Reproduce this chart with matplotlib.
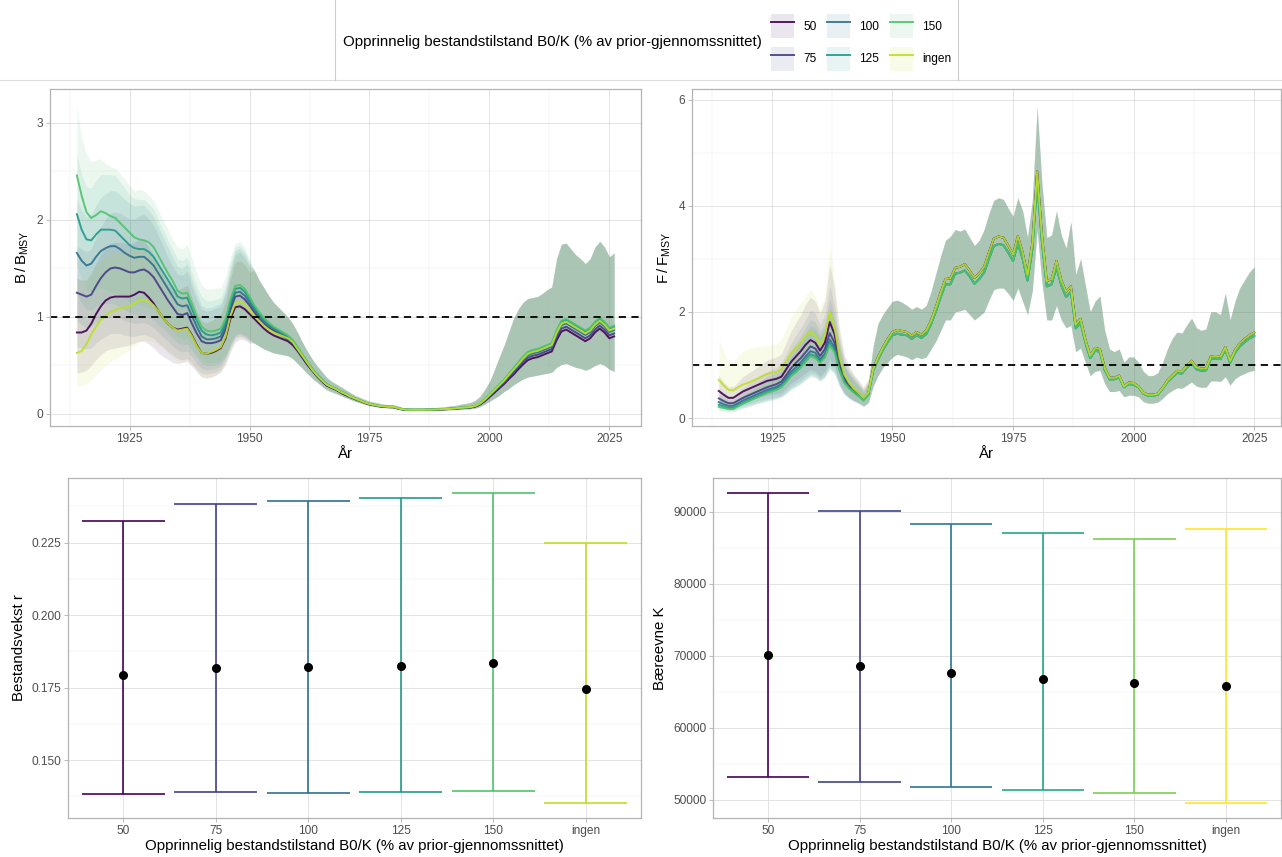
import numpy as np
import matplotlib
matplotlib.use('Agg')
import matplotlib.pyplot as plt
from matplotlib.lines import Line2D
from matplotlib.patches import Patch
from matplotlib.ticker import MultipleLocator, FixedLocator, FormatStrFormatter

plt.rcParams['font.family'] = ['Liberation Sans', 'DejaVu Sans']
plt.rcParams['mathtext.default'] = 'regular'

# ---------------- data ----------------
levels = ['50', '75', '100', '125', '150', 'ingen']
legend_title = 'Opprinnelig bestandstilstand B0/K (% av prior-gjennomssnittet)'
years_B = list(range(1914, 2027))
years_F = list(range(1914, 2026))

# B/BMSY medians (1914-2026)
B_med_50 = [0.84, 0.84, 0.86, 0.93, 1.03, 1.11, 1.17, 1.20, 1.21, 1.21,
            1.21, 1.21, 1.23, 1.26, 1.25, 1.20, 1.14, 1.06, 0.99, 0.93,
            0.89, 0.87, 0.88, 0.89, 0.81, 0.71, 0.63, 0.62, 0.63, 0.65,
            0.68, 0.78, 0.98, 1.10, 1.11, 1.08, 1.03, 0.98, 0.93, 0.88,
            0.84, 0.81, 0.79, 0.77, 0.75, 0.71, 0.65, 0.58, 0.51, 0.45,
            0.39, 0.34, 0.295, 0.27, 0.25, 0.22, 0.195, 0.173, 0.153, 0.134,
            0.115, 0.099, 0.089, 0.079, 0.074, 0.07, 0.069, 0.055, 0.045, 0.042,
            0.041, 0.041, 0.041, 0.042, 0.043, 0.045, 0.047, 0.049, 0.052, 0.055,
            0.059, 0.062, 0.066, 0.075, 0.096, 0.13, 0.173, 0.217, 0.262, 0.306,
            0.358, 0.405, 0.46, 0.51, 0.555, 0.575, 0.585, 0.605, 0.625, 0.645,
            0.76, 0.85, 0.87, 0.84, 0.81, 0.78, 0.75, 0.78, 0.84, 0.88,
            0.84, 0.78, 0.80]
B_med_75 = [1.25, 1.23, 1.21, 1.23, 1.32, 1.40, 1.46, 1.50, 1.51, 1.50,
            1.48, 1.46, 1.46, 1.48, 1.49, 1.46, 1.41, 1.33, 1.25, 1.17,
            1.10, 1.03, 1.02, 1.04, 0.93, 0.83, 0.75, 0.73, 0.73, 0.74,
            0.76, 0.87, 1.07, 1.21, 1.22, 1.18, 1.12, 1.05, 0.98, 0.93,
            0.89, 0.86, 0.83, 0.80, 0.77, 0.73, 0.66, 0.59, 0.52, 0.46,
            0.40, 0.35, 0.30, 0.275, 0.255, 0.225, 0.20, 0.177, 0.157, 0.137,
            0.118, 0.101, 0.091, 0.081, 0.076, 0.072, 0.071, 0.057, 0.046, 0.043,
            0.042, 0.042, 0.042, 0.043, 0.044, 0.046, 0.048, 0.05, 0.053, 0.057,
            0.061, 0.064, 0.068, 0.078, 0.10, 0.137, 0.182, 0.228, 0.274, 0.32,
            0.375, 0.425, 0.48, 0.535, 0.58, 0.60, 0.61, 0.63, 0.65, 0.67,
            0.79, 0.88, 0.90, 0.87, 0.84, 0.81, 0.78, 0.81, 0.87, 0.91,
            0.87, 0.81, 0.83]
B_med_100 = [1.66, 1.58, 1.53, 1.55, 1.62, 1.68, 1.71, 1.73, 1.73, 1.70,
             1.66, 1.63, 1.61, 1.62, 1.62, 1.58, 1.53, 1.45, 1.37, 1.29,
             1.21, 1.13, 1.11, 1.12, 1.01, 0.90, 0.80, 0.77, 0.77, 0.78,
             0.80, 0.91, 1.11, 1.25, 1.26, 1.22, 1.15, 1.08, 1.01, 0.95,
             0.91, 0.88, 0.85, 0.82, 0.79, 0.74, 0.67, 0.60, 0.53, 0.46,
             0.40, 0.35, 0.31, 0.28, 0.26, 0.23, 0.205, 0.18, 0.16, 0.14,
             0.12, 0.103, 0.093, 0.083, 0.078, 0.074, 0.073, 0.058, 0.047, 0.044,
             0.043, 0.043, 0.043, 0.044, 0.045, 0.047, 0.049, 0.051, 0.054, 0.058,
             0.063, 0.066, 0.07, 0.081, 0.104, 0.142, 0.19, 0.237, 0.285, 0.333,
             0.39, 0.445, 0.50, 0.555, 0.605, 0.625, 0.635, 0.655, 0.675, 0.695,
             0.82, 0.915, 0.935, 0.905, 0.875, 0.845, 0.815, 0.845, 0.905, 0.945,
             0.905, 0.845, 0.865]
B_med_125 = [2.06, 1.90, 1.80, 1.79, 1.85, 1.90, 1.90, 1.90, 1.89, 1.84,
             1.79, 1.74, 1.71, 1.70, 1.70, 1.67, 1.62, 1.54, 1.46, 1.38,
             1.30, 1.21, 1.19, 1.20, 1.08, 0.96, 0.86, 0.82, 0.81, 0.82,
             0.84, 0.95, 1.15, 1.29, 1.30, 1.26, 1.18, 1.10, 1.03, 0.97,
             0.93, 0.89, 0.86, 0.83, 0.80, 0.75, 0.68, 0.61, 0.54, 0.47,
             0.41, 0.36, 0.31, 0.28, 0.26, 0.23, 0.21, 0.18, 0.16, 0.14,
             0.12, 0.104, 0.094, 0.084, 0.079, 0.075, 0.074, 0.06, 0.048, 0.045,
             0.044, 0.044, 0.044, 0.045, 0.046, 0.048, 0.05, 0.052, 0.055, 0.06,
             0.065, 0.068, 0.072, 0.084, 0.108, 0.148, 0.198, 0.247, 0.297, 0.346,
             0.405, 0.465, 0.52, 0.58, 0.63, 0.65, 0.66, 0.68, 0.70, 0.72,
             0.85, 0.95, 0.97, 0.94, 0.91, 0.88, 0.85, 0.88, 0.94, 0.98,
             0.94, 0.88, 0.90]
B_med_150 = [2.46, 2.25, 2.08, 2.02, 2.05, 2.09, 2.07, 2.04, 2.02, 1.97,
             1.92, 1.87, 1.82, 1.80, 1.79, 1.77, 1.72, 1.63, 1.54, 1.45,
             1.37, 1.27, 1.24, 1.25, 1.13, 1.00, 0.90, 0.86, 0.85, 0.86,
             0.88, 0.98, 1.18, 1.32, 1.33, 1.29, 1.21, 1.12, 1.05, 0.99,
             0.94, 0.90, 0.87, 0.84, 0.81, 0.76, 0.69, 0.61, 0.54, 0.47,
             0.41, 0.36, 0.31, 0.28, 0.26, 0.23, 0.21, 0.18, 0.16, 0.14,
             0.12, 0.105, 0.095, 0.085, 0.08, 0.075, 0.075, 0.06, 0.048, 0.045,
             0.044, 0.044, 0.044, 0.045, 0.046, 0.048, 0.05, 0.052, 0.055, 0.06,
             0.065, 0.068, 0.072, 0.085, 0.11, 0.15, 0.20, 0.25, 0.30, 0.35,
             0.41, 0.47, 0.53, 0.59, 0.64, 0.66, 0.67, 0.69, 0.71, 0.73,
             0.86, 0.96, 0.98, 0.95, 0.92, 0.89, 0.86, 0.89, 0.95, 0.99,
             0.95, 0.89, 0.91]
B_med_ingen = [0.63, 0.65, 0.72, 0.82, 0.90, 0.97, 1.02, 1.05, 1.07, 1.09,
               1.10, 1.11, 1.14, 1.17, 1.18, 1.16, 1.12, 1.06, 0.99, 0.93,
               0.89, 0.86, 0.87, 0.88, 0.80, 0.70, 0.63, 0.62, 0.64, 0.66,
               0.69, 0.80, 1.01, 1.14, 1.16, 1.13, 1.07, 1.01, 0.96, 0.91,
               0.87, 0.84, 0.82, 0.80, 0.78, 0.74, 0.67, 0.60, 0.53, 0.46,
               0.40, 0.35, 0.305, 0.278, 0.258, 0.228, 0.205, 0.18, 0.16, 0.14,
               0.12, 0.104, 0.094, 0.084, 0.079, 0.074, 0.074, 0.059, 0.047, 0.044,
               0.043, 0.043, 0.043, 0.044, 0.045, 0.047, 0.049, 0.051, 0.054, 0.059,
               0.064, 0.067, 0.071, 0.083, 0.106, 0.145, 0.194, 0.243, 0.292, 0.34,
               0.398, 0.455, 0.51, 0.57, 0.62, 0.64, 0.65, 0.67, 0.69, 0.71,
               0.835, 0.93, 0.95, 0.92, 0.89, 0.86, 0.83, 0.86, 0.92, 0.96,
               0.92, 0.86, 0.88]

# B/BMSY credible bands: early part (1914-1950) per series, later part (1951-2026) shared
B_lo_early_50 = [0.42, 0.43, 0.45, 0.50, 0.56, 0.61, 0.65, 0.67, 0.68, 0.69,
                 0.70, 0.71, 0.73, 0.75, 0.75, 0.72, 0.68, 0.63, 0.59, 0.56,
                 0.53, 0.52, 0.53, 0.54, 0.49, 0.43, 0.38, 0.37, 0.38, 0.40,
                 0.43, 0.51, 0.64, 0.74, 0.77, 0.76, 0.73]
B_hi_early_50 = [1.40, 1.38, 1.38, 1.45, 1.55, 1.65, 1.72, 1.76, 1.77, 1.77,
                 1.76, 1.75, 1.77, 1.80, 1.79, 1.72, 1.64, 1.53, 1.43, 1.35,
                 1.30, 1.28, 1.30, 1.33, 1.20, 1.06, 0.96, 0.94, 0.96, 0.99,
                 1.03, 1.16, 1.40, 1.56, 1.58, 1.54, 1.46]
B_lo_early_75 = [0.69, 0.68, 0.67, 0.68, 0.73, 0.77, 0.80, 0.83, 0.83, 0.83,
                 0.81, 0.80, 0.80, 0.81, 0.82, 0.80, 0.78, 0.73, 0.69, 0.64,
                 0.61, 0.57, 0.56, 0.57, 0.52, 0.46, 0.42, 0.41, 0.42, 0.43,
                 0.46, 0.55, 0.68, 0.78, 0.80, 0.78, 0.75]
B_hi_early_75 = [1.73, 1.70, 1.67, 1.70, 1.82, 1.93, 2.01, 2.07, 2.08, 2.07,
                 2.04, 2.01, 2.01, 2.04, 2.06, 2.01, 1.95, 1.84, 1.73, 1.61,
                 1.52, 1.44, 1.43, 1.47, 1.31, 1.18, 1.08, 1.06, 1.07, 1.09,
                 1.11, 1.24, 1.46, 1.64, 1.67, 1.61, 1.52]
B_lo_early_100 = [0.96, 0.92, 0.89, 0.90, 0.94, 0.97, 0.99, 1.00, 1.00, 0.99,
                  0.96, 0.95, 0.93, 0.94, 0.94, 0.92, 0.89, 0.84, 0.79, 0.75,
                  0.70, 0.66, 0.64, 0.65, 0.59, 0.52, 0.47, 0.45, 0.46, 0.47,
                  0.50, 0.58, 0.70, 0.80, 0.82, 0.80, 0.76]
B_hi_early_100 = [2.21, 2.10, 2.03, 2.06, 2.15, 2.23, 2.27, 2.30, 2.30, 2.26,
                  2.21, 2.17, 2.14, 2.15, 2.15, 2.10, 2.03, 1.93, 1.82, 1.72,
                  1.61, 1.52, 1.50, 1.55, 1.38, 1.24, 1.12, 1.09, 1.10, 1.12,
                  1.14, 1.28, 1.50, 1.68, 1.71, 1.65, 1.55]
B_lo_early_125 = [1.24, 1.14, 1.08, 1.07, 1.11, 1.14, 1.14, 1.14, 1.13, 1.10,
                  1.07, 1.04, 1.03, 1.02, 1.02, 1.00, 0.97, 0.92, 0.88, 0.83,
                  0.78, 0.73, 0.71, 0.72, 0.65, 0.58, 0.52, 0.50, 0.50, 0.51,
                  0.53, 0.60, 0.72, 0.81, 0.83, 0.81, 0.77]
B_hi_early_125 = [2.68, 2.47, 2.34, 2.33, 2.41, 2.47, 2.47, 2.47, 2.46, 2.39,
                  2.33, 2.26, 2.22, 2.21, 2.21, 2.17, 2.11, 2.00, 1.90, 1.79,
                  1.69, 1.60, 1.58, 1.62, 1.46, 1.32, 1.21, 1.17, 1.17, 1.18,
                  1.20, 1.33, 1.55, 1.72, 1.74, 1.68, 1.57]
B_lo_early_150 = [1.53, 1.40, 1.29, 1.25, 1.27, 1.30, 1.28, 1.26, 1.25, 1.22,
                  1.19, 1.16, 1.13, 1.12, 1.11, 1.10, 1.07, 1.01, 0.95, 0.90,
                  0.85, 0.79, 0.77, 0.78, 0.70, 0.62, 0.56, 0.53, 0.53, 0.53,
                  0.55, 0.61, 0.73, 0.82, 0.84, 0.82, 0.78]
B_hi_early_150 = [3.16, 2.85, 2.68, 2.60, 2.62, 2.63, 2.58, 2.55, 2.53, 2.48,
                  2.42, 2.35, 2.30, 2.32, 2.30, 2.25, 2.20, 2.10, 2.00, 1.90,
                  1.80, 1.72, 1.70, 1.75, 1.60, 1.45, 1.33, 1.29, 1.29, 1.30,
                  1.30, 1.42, 1.62, 1.76, 1.78, 1.72, 1.60]
B_lo_early_ingen = [0.28, 0.29, 0.31, 0.35, 0.40, 0.45, 0.50, 0.54, 0.57, 0.60,
                    0.63, 0.66, 0.70, 0.74, 0.76, 0.75, 0.74, 0.71, 0.68, 0.63,
                    0.58, 0.55, 0.55, 0.56, 0.52, 0.45, 0.39, 0.37, 0.38, 0.40,
                    0.44, 0.52, 0.65, 0.76, 0.80, 0.79, 0.76]
B_hi_early_ingen = [1.40, 1.38, 1.40, 1.45, 1.52, 1.58, 1.62, 1.65, 1.66, 1.67,
                    1.67, 1.67, 1.70, 1.73, 1.73, 1.68, 1.61, 1.52, 1.43, 1.35,
                    1.30, 1.27, 1.29, 1.32, 1.19, 1.05, 0.96, 0.94, 0.96, 0.99,
                    1.03, 1.17, 1.42, 1.60, 1.62, 1.57, 1.49]
B_lo_late = [0.73, 0.70, 0.67, 0.65, 0.63, 0.62, 0.61, 0.60, 0.57, 0.52,
             0.47, 0.42, 0.37, 0.33, 0.29, 0.25, 0.23, 0.21, 0.19, 0.17,
             0.15, 0.13, 0.115, 0.10, 0.085, 0.078, 0.07, 0.066, 0.062, 0.06,
             0.048, 0.038, 0.035, 0.034, 0.034, 0.034, 0.035, 0.036, 0.037, 0.038,
             0.04, 0.042, 0.045, 0.048, 0.05, 0.053, 0.06, 0.075, 0.10, 0.13,
             0.16, 0.19, 0.23, 0.26, 0.30, 0.33, 0.36, 0.38, 0.39, 0.40,
             0.41, 0.42, 0.43, 0.48, 0.51, 0.52, 0.50, 0.48, 0.47, 0.45,
             0.47, 0.50, 0.52, 0.50, 0.46, 0.44]
B_hi_late = [1.48, 1.38, 1.30, 1.22, 1.15, 1.10, 1.05, 1.00, 0.93, 0.84,
             0.74, 0.65, 0.57, 0.50, 0.44, 0.38, 0.34, 0.31, 0.28, 0.25,
             0.22, 0.19, 0.17, 0.15, 0.13, 0.12, 0.11, 0.10, 0.095, 0.095,
             0.08, 0.065, 0.06, 0.06, 0.06, 0.06, 0.062, 0.064, 0.068, 0.072,
             0.077, 0.083, 0.09, 0.10, 0.108, 0.118, 0.14, 0.18, 0.25, 0.33,
             0.45, 0.58, 0.70, 0.84, 0.98, 1.08, 1.15, 1.19, 1.20, 1.21,
             1.24, 1.28, 1.31, 1.60, 1.75, 1.76, 1.70, 1.64, 1.60, 1.55,
             1.60, 1.72, 1.78, 1.72, 1.62, 1.66]

# F/FMSY medians: early part (1914-1945) per series
F_med_early_50 = [0.51, 0.44, 0.38, 0.38, 0.44, 0.50, 0.54, 0.58, 0.62, 0.66,
                  0.70, 0.72, 0.74, 0.78, 0.92, 1.06, 1.16, 1.26, 1.38, 1.47,
                  1.42, 1.27, 1.42, 1.81, 1.58, 1.08, 0.77, 0.63, 0.53, 0.46,
                  0.37, 0.47]
F_med_early_75 = [0.37, 0.32, 0.28, 0.28, 0.33, 0.38, 0.42, 0.46, 0.50, 0.54,
                  0.58, 0.61, 0.64, 0.69, 0.81, 0.94, 1.04, 1.13, 1.24, 1.35,
                  1.31, 1.17, 1.30, 1.60, 1.42, 1.00, 0.73, 0.60, 0.51, 0.44,
                  0.36, 0.46]
F_med_early_100 = [0.30, 0.26, 0.23, 0.23, 0.28, 0.33, 0.37, 0.41, 0.45, 0.49,
                   0.53, 0.56, 0.59, 0.64, 0.75, 0.87, 0.96, 1.05, 1.16, 1.26,
                   1.23, 1.10, 1.22, 1.48, 1.33, 0.95, 0.70, 0.58, 0.50, 0.43,
                   0.35, 0.45]
F_med_early_125 = [0.25, 0.22, 0.19, 0.19, 0.24, 0.29, 0.33, 0.37, 0.41, 0.45,
                   0.49, 0.53, 0.56, 0.61, 0.71, 0.82, 0.90, 0.99, 1.10, 1.20,
                   1.17, 1.06, 1.17, 1.41, 1.27, 0.92, 0.68, 0.57, 0.49, 0.42,
                   0.34, 0.44]
F_med_early_150 = [0.21, 0.19, 0.17, 0.17, 0.22, 0.27, 0.31, 0.35, 0.39, 0.43,
                   0.47, 0.50, 0.53, 0.58, 0.68, 0.79, 0.86, 0.95, 1.06, 1.16,
                   1.13, 1.04, 1.14, 1.37, 1.24, 0.90, 0.67, 0.56, 0.48, 0.41,
                   0.33, 0.43]
F_med_early_ingen = [0.72, 0.62, 0.53, 0.52, 0.58, 0.63, 0.66, 0.70, 0.74, 0.79,
                     0.83, 0.85, 0.87, 0.92, 1.08, 1.22, 1.32, 1.42, 1.55, 1.63,
                     1.55, 1.38, 1.55, 2.00, 1.72, 1.15, 0.82, 0.66, 0.55, 0.47,
                     0.38, 0.48]
# F/FMSY medians 1946-2025: upper group (50, 75, ingen) and lower group (100, 125, 150)
F_med_late_upper = [0.93, 1.15, 1.33, 1.49, 1.62, 1.66, 1.64, 1.62, 1.55, 1.62,
                    1.57, 1.65, 1.84, 2.09, 2.37, 2.62, 2.63, 2.83, 2.85, 2.90,
                    2.78, 2.64, 2.73, 2.85, 3.12, 3.38, 3.42, 3.40, 3.25, 3.08,
                    3.43, 3.12, 2.70, 3.30, 4.65, 3.45, 2.58, 2.62, 2.96, 2.60,
                    2.38, 2.48, 1.76, 1.87, 1.48, 1.18, 1.32, 1.30, 0.95, 0.76,
                    0.76, 0.80, 0.60, 0.67, 0.66, 0.60, 0.48, 0.44, 0.44, 0.46,
                    0.57, 0.71, 0.80, 0.89, 0.88, 0.99, 1.08, 0.96, 0.93, 0.94,
                    1.16, 1.17, 1.16, 1.34, 1.08, 1.28, 1.41, 1.49, 1.56, 1.61]
F_med_late_lower = [0.89, 1.10, 1.28, 1.43, 1.56, 1.59, 1.57, 1.56, 1.49, 1.56,
                    1.51, 1.58, 1.77, 2.01, 2.28, 2.52, 2.52, 2.72, 2.74, 2.78,
                    2.67, 2.53, 2.62, 2.74, 3.00, 3.24, 3.28, 3.26, 3.12, 2.96,
                    3.29, 3.00, 2.59, 3.17, 4.46, 3.31, 2.48, 2.52, 2.84, 2.50,
                    2.28, 2.38, 1.69, 1.80, 1.42, 1.13, 1.27, 1.25, 0.91, 0.73,
                    0.73, 0.77, 0.58, 0.64, 0.63, 0.58, 0.46, 0.42, 0.42, 0.44,
                    0.55, 0.68, 0.77, 0.85, 0.84, 0.95, 1.04, 0.92, 0.89, 0.90,
                    1.11, 1.12, 1.11, 1.29, 1.04, 1.23, 1.35, 1.43, 1.50, 1.55]

# F/FMSY credible bands: early (1914-1945) per series, later (1946-2025) shared
F_lo_early_50 = [0.32, 0.27, 0.24, 0.24, 0.27, 0.31, 0.33, 0.36, 0.38, 0.41,
                 0.43, 0.45, 0.46, 0.48, 0.57, 0.66, 0.72, 0.78, 0.86, 0.91,
                 0.88, 0.79, 0.88, 1.12, 0.98, 0.67, 0.48, 0.39, 0.33, 0.29,
                 0.23, 0.29]
F_hi_early_50 = [0.80, 0.68, 0.59, 0.59, 0.68, 0.78, 0.84, 0.90, 0.96, 1.02,
                 1.09, 1.12, 1.15, 1.21, 1.43, 1.64, 1.80, 1.95, 2.14, 2.28,
                 2.20, 1.97, 2.20, 2.90, 2.45, 1.67, 1.19, 0.98, 0.82, 0.71,
                 0.57, 0.73]
F_lo_early_75 = [0.23, 0.20, 0.18, 0.18, 0.21, 0.24, 0.26, 0.29, 0.32, 0.34,
                 0.37, 0.38, 0.40, 0.43, 0.51, 0.59, 0.66, 0.71, 0.78, 0.85,
                 0.83, 0.74, 0.82, 1.01, 0.89, 0.63, 0.46, 0.38, 0.32, 0.28,
                 0.23, 0.29]
F_hi_early_75 = [0.56, 0.48, 0.42, 0.42, 0.50, 0.57, 0.63, 0.69, 0.75, 0.81,
                 0.87, 0.92, 0.96, 1.04, 1.22, 1.41, 1.56, 1.70, 1.86, 2.03,
                 1.97, 1.76, 1.95, 2.50, 2.13, 1.50, 1.10, 0.90, 0.77, 0.66,
                 0.54, 0.69]
F_lo_early_100 = [0.19, 0.17, 0.15, 0.15, 0.18, 0.21, 0.24, 0.26, 0.29, 0.31,
                  0.34, 0.36, 0.38, 0.41, 0.48, 0.56, 0.61, 0.67, 0.74, 0.81,
                  0.79, 0.70, 0.78, 0.95, 0.85, 0.61, 0.45, 0.37, 0.32, 0.28,
                  0.22, 0.29]
F_hi_early_100 = [0.44, 0.38, 0.34, 0.34, 0.41, 0.49, 0.54, 0.60, 0.66, 0.72,
                  0.78, 0.82, 0.87, 0.94, 1.10, 1.28, 1.41, 1.54, 1.71, 1.85,
                  1.81, 1.62, 1.79, 2.25, 1.96, 1.40, 1.03, 0.85, 0.74, 0.63,
                  0.51, 0.66]
F_lo_early_125 = [0.16, 0.14, 0.12, 0.12, 0.16, 0.19, 0.21, 0.24, 0.27, 0.29,
                  0.32, 0.34, 0.36, 0.40, 0.46, 0.53, 0.59, 0.64, 0.72, 0.78,
                  0.76, 0.69, 0.76, 0.92, 0.83, 0.60, 0.44, 0.37, 0.32, 0.27,
                  0.22, 0.29]
F_hi_early_125 = [0.36, 0.32, 0.28, 0.28, 0.35, 0.42, 0.48, 0.54, 0.59, 0.65,
                  0.71, 0.77, 0.81, 0.88, 1.03, 1.19, 1.31, 1.44, 1.60, 1.74,
                  1.70, 1.54, 1.70, 2.10, 1.84, 1.33, 0.99, 0.83, 0.71, 0.61,
                  0.49, 0.64]
F_lo_early_150 = [0.14, 0.13, 0.12, 0.12, 0.15, 0.18, 0.21, 0.24, 0.27, 0.29,
                  0.32, 0.34, 0.36, 0.39, 0.46, 0.54, 0.58, 0.65, 0.72, 0.79,
                  0.77, 0.71, 0.78, 0.93, 0.84, 0.61, 0.46, 0.38, 0.33, 0.28,
                  0.22, 0.29]
F_hi_early_150 = [0.30, 0.28, 0.25, 0.25, 0.32, 0.39, 0.45, 0.51, 0.57, 0.62,
                  0.68, 0.73, 0.77, 0.84, 0.99, 1.15, 1.25, 1.38, 1.54, 1.68,
                  1.64, 1.51, 1.65, 2.02, 1.80, 1.31, 0.97, 0.81, 0.70, 0.59,
                  0.48, 0.62]
F_lo_early_ingen = [0.30, 0.27, 0.25, 0.27, 0.33, 0.38, 0.41, 0.45, 0.48, 0.52,
                    0.55, 0.57, 0.59, 0.63, 0.75, 0.85, 0.92, 1.00, 1.08, 1.12,
                    1.06, 0.95, 1.07, 1.35, 1.15, 0.78, 0.57, 0.46, 0.38, 0.32,
                    0.26, 0.33]
F_hi_early_ingen = [1.50, 1.25, 1.05, 1.05, 1.18, 1.25, 1.30, 1.33, 1.35, 1.36,
                    1.37, 1.38, 1.40, 1.50, 1.70, 1.90, 2.05, 2.15, 2.30, 2.42,
                    2.30, 2.05, 2.30, 3.22, 2.60, 1.70, 1.18, 0.95, 0.80, 0.70,
                    0.60, 0.75]
F_lo_late = [0.60, 0.80, 0.95, 1.05, 1.15, 1.20, 1.18, 1.15, 1.10, 1.15,
             1.12, 1.15, 1.30, 1.45, 1.65, 1.85, 1.85, 2.00, 2.02, 2.05,
             1.95, 1.85, 1.92, 2.00, 2.22, 2.42, 2.45, 2.45, 2.35, 2.22,
             2.45, 2.20, 1.95, 2.40, 3.55, 2.55, 1.85, 1.85, 2.12, 1.85,
             1.70, 1.75, 1.25, 1.32, 1.05, 0.80, 0.88, 0.90, 0.65, 0.50,
             0.50, 0.52, 0.40, 0.43, 0.43, 0.40, 0.31, 0.28, 0.28, 0.30,
             0.37, 0.46, 0.52, 0.57, 0.56, 0.62, 0.68, 0.60, 0.58, 0.58,
             0.70, 0.70, 0.69, 0.78, 0.62, 0.74, 0.80, 0.84, 0.88, 0.90]
F_hi_late = [1.35, 1.78, 1.95, 2.08, 2.20, 2.22, 2.18, 2.12, 2.05, 2.10,
             2.05, 2.12, 2.38, 2.72, 3.05, 3.35, 3.42, 3.55, 3.52, 3.56,
             3.40, 3.25, 3.35, 3.55, 3.85, 4.10, 4.15, 4.12, 3.95, 3.80,
             4.15, 3.90, 3.40, 4.10, 5.85, 4.40, 3.40, 3.45, 3.90, 3.45,
             3.20, 3.70, 2.70, 3.00, 2.50, 2.00, 2.20, 2.30, 1.65, 1.30,
             1.25, 1.30, 1.05, 1.15, 1.15, 1.05, 0.88, 0.80, 0.80, 0.85,
             1.05, 1.30, 1.50, 1.62, 1.60, 1.75, 1.88, 1.70, 1.65, 1.68,
             2.00, 2.00, 1.95, 2.35, 1.85, 2.20, 2.45, 2.60, 2.75, 2.85]

# Posterior summaries of r and K
r_median = [0.1792, 0.1817, 0.1821, 0.1826, 0.1836, 0.1744]
r_lower = [0.1382, 0.1389, 0.1387, 0.1389, 0.1392, 0.1353]
r_upper = [0.2323, 0.2382, 0.2392, 0.2404, 0.2420, 0.2248]
K_median = [70050, 68650, 67580, 66840, 66280, 65860]
K_lower = [53160, 52420, 51770, 51350, 51020, 49630]
K_upper = [92560, 90090, 88370, 87120, 86280, 87580]

# ---------------- assemble series ----------------
B_med = [B_med_50, B_med_75, B_med_100, B_med_125, B_med_150, B_med_ingen]
B_lo = [e + B_lo_late for e in [B_lo_early_50, B_lo_early_75, B_lo_early_100,
                                B_lo_early_125, B_lo_early_150, B_lo_early_ingen]]
B_hi = [e + B_hi_late for e in [B_hi_early_50, B_hi_early_75, B_hi_early_100,
                                B_hi_early_125, B_hi_early_150, B_hi_early_ingen]]
F_med = [F_med_early_50 + F_med_late_upper, F_med_early_75 + F_med_late_upper,
         F_med_early_100 + F_med_late_lower, F_med_early_125 + F_med_late_lower,
         F_med_early_150 + F_med_late_lower, F_med_early_ingen + F_med_late_upper]
F_lo = [e + F_lo_late for e in [F_lo_early_50, F_lo_early_75, F_lo_early_100,
                                F_lo_early_125, F_lo_early_150, F_lo_early_ingen]]
F_hi = [e + F_hi_late for e in [F_hi_early_50, F_hi_early_75, F_hi_early_100,
                                F_hi_early_125, F_hi_early_150, F_hi_early_ingen]]

# ---------------- style ----------------
pal = [plt.cm.viridis(v) for v in np.linspace(0, 0.9, 6)]
pal_full = [plt.cm.viridis(v) for v in np.linspace(0, 1.0, 6)]
RIB_A = 0.10
LINE_A = 0.9
TICK_FS = 8.6
TITLE_FS = 10.8
W, H = 1282, 857

fig = plt.figure(figsize=(W / 100, H / 100), dpi=100)
fig.patch.set_facecolor('white')


def rect(l, t, r, b):
    return [l / W, 1 - b / H, (r - l) / W, (b - t) / H]


def style(ax):
    for s in ax.spines.values():
        s.set_color('#B3B3B3')
        s.set_linewidth(0.9)
    ax.grid(which='major', color='#DEDEDE', lw=0.6)
    ax.grid(which='minor', color='#EDEDED', lw=0.35)
    ax.set_axisbelow(True)
    ax.tick_params(which='major', length=2.75, width=0.6, color='#B3B3B3',
                   labelsize=TICK_FS, labelcolor='#4D4D4D', pad=2.2)
    ax.tick_params(which='minor', length=0)


ax1 = fig.add_axes(rect(50, 89, 641, 426))
ax2 = fig.add_axes(rect(692, 89, 1281, 426))
ax3 = fig.add_axes(rect(68, 478, 641, 818))
ax4 = fig.add_axes(rect(713, 478, 1281, 818))

# top-left: B/BMSY
for c, lo, hi in zip(pal, B_lo, B_hi):
    ax1.fill_between(years_B, lo, hi, color=c, alpha=RIB_A, lw=0)
for c, m in zip(pal, B_med):
    ax1.plot(years_B, m, color=c, alpha=LINE_A, lw=1.4)
ax1.axhline(1, color='black', lw=1.3, ls=(0, (4, 3)))
ax1.set_xlim(1908.4, 2031.6)
ax1.set_ylim(-0.124, 3.35)
ax1.xaxis.set_major_locator(FixedLocator([1925, 1950, 1975, 2000, 2025]))
ax1.xaxis.set_minor_locator(FixedLocator([1912.5, 1937.5, 1962.5, 1987.5, 2012.5]))
ax1.yaxis.set_major_locator(MultipleLocator(1))
ax1.yaxis.set_minor_locator(MultipleLocator(0.5))
style(ax1)
ax1.set_xlabel('År', fontsize=TITLE_FS, labelpad=1.5)
ax1.set_ylabel(r'$B\,/\,B_{MSY}$', fontsize=TITLE_FS, labelpad=4)

# top-right: F/FMSY
for c, lo, hi in zip(pal, F_lo, F_hi):
    ax2.fill_between(years_F, lo, hi, color=c, alpha=RIB_A, lw=0)
for c, m in zip(pal, F_med):
    ax2.plot(years_F, m, color=c, alpha=LINE_A, lw=1.4)
ax2.axhline(1, color='black', lw=1.3, ls=(0, (4, 3)))
ax2.set_xlim(1908.45, 2030.55)
ax2.set_ylim(-0.15, 6.2)
ax2.xaxis.set_major_locator(FixedLocator([1925, 1950, 1975, 2000, 2025]))
ax2.xaxis.set_minor_locator(FixedLocator([1912.5, 1937.5, 1962.5, 1987.5, 2012.5]))
ax2.yaxis.set_major_locator(MultipleLocator(2))
ax2.yaxis.set_minor_locator(MultipleLocator(1))
style(ax2)
ax2.set_xlabel('År', fontsize=TITLE_FS, labelpad=1.5)
ax2.set_ylabel(r'$F\,/\,F_{MSY}$', fontsize=TITLE_FS, labelpad=4)

# bottom panels: errorbars
xpos = np.arange(1, len(levels) + 1)


def errplot(ax, med, lo, hi, colors):
    for x, c, m, l, h in zip(xpos, colors, med, lo, hi):
        ax.vlines(x, l, h, color=c, alpha=0.85, lw=1.4)
        ax.hlines([l, h], x - 0.45, x + 0.45, color=c, alpha=0.85, lw=1.4)
    ax.plot(xpos, med, 'o', color='black', ms=5.5, zorder=5)
    ax.set_xlim(0.4, len(levels) + 0.6)
    ax.set_xticks(xpos)
    ax.set_xticklabels(levels)


errplot(ax3, r_median, r_lower, r_upper, pal)
ax3.set_ylim(0.1300, 0.2473)
ax3.yaxis.set_major_locator(MultipleLocator(0.025))
ax3.yaxis.set_minor_locator(MultipleLocator(0.0125))
ax3.yaxis.set_major_formatter(FormatStrFormatter('%.3f'))
style(ax3)
ax3.set_xlabel(legend_title, fontsize=TITLE_FS, labelpad=1.5)
ax3.set_ylabel('Bestandsvekst r', fontsize=TITLE_FS, labelpad=4)

errplot(ax4, K_median, K_lower, K_upper, pal_full)
ax4.set_ylim(47480, 94700)
ax4.yaxis.set_major_locator(MultipleLocator(10000))
ax4.yaxis.set_minor_locator(MultipleLocator(5000))
ax4.yaxis.set_major_formatter(FormatStrFormatter('%d'))
style(ax4)
ax4.set_xlabel(legend_title, fontsize=TITLE_FS, labelpad=1.5)
ax4.set_ylabel('Bæreevne K', fontsize=TITLE_FS, labelpad=4)

# legend
handles = [(Patch(facecolor=c, alpha=RIB_A, edgecolor='none'),
            Line2D([], [], color=c, alpha=LINE_A, lw=1.4)) for c in pal]
fig.legend(handles, levels, ncol=3, loc='upper left',
           bbox_to_anchor=(771 / W, 1 - 14 / H), frameon=False, fontsize=TICK_FS,
           handlelength=1.93, handleheight=2.71, handletextpad=0.75,
           labelspacing=0.75, columnspacing=0.92, borderpad=0, borderaxespad=0)
fig.text(343 / W, 1 - 42 / H, legend_title, fontsize=TITLE_FS, ha='left', va='center')

# legend box frame lines
fig.add_artist(Line2D([0, 1], [1 - 80 / H] * 2, transform=fig.transFigure,
                      color='#DDDDDD', lw=0.8))
for xp in (335, 958):
    fig.add_artist(Line2D([xp / W] * 2, [1 - 80 / H, 1.0], transform=fig.transFigure,
                          color='#CCCCCC', lw=0.8))

fig.savefig('out.png', dpi=100, facecolor='white')
